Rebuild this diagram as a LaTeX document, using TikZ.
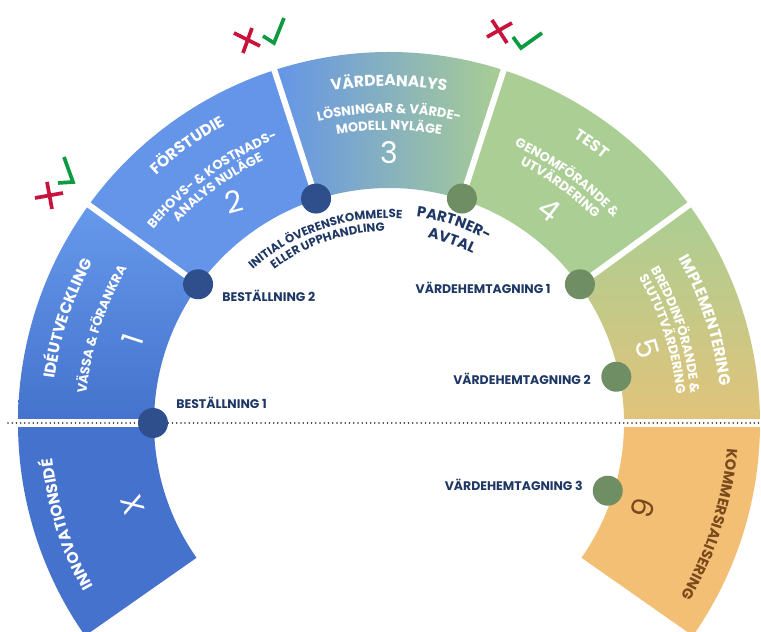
\documentclass[tikz,border=0pt]{standalone}
\usepackage{fontspec}
\setmainfont{Poppins}
\usepackage{tikz}
\usetikzlibrary{positioning, decorations.text, shadings}
\definecolor{segblue}{HTML}{6495E8}
\definecolor{segbluetop}{HTML}{6699EB}
\definecolor{segbluedark}{HTML}{4472CC}
\definecolor{segmid}{HTML}{8AB4BE}
\definecolor{seggreen}{HTML}{AACE93}
\definecolor{segtan}{HTML}{E2C37A}
\definecolor{segorange}{HTML}{F2BF74}
\definecolor{dotblue}{HTML}{2E4E8C}
\definecolor{dotgreen}{HTML}{6F8E63}
\definecolor{navy}{HTML}{1E3764}
\definecolor{kommbrown}{HTML}{7A4A1C}
\definecolor{markred}{HTML}{C8143C}
\definecolor{markgreen}{HTML}{0E9A40}
\definecolor{dotgray}{HTML}{2A2A2A}
\tikzstyle{Gap} = [
%white cut between two phases:
white, line width=0.12cm
]
\newcommand{\ringpart}[2]{(#1:371) arc[start angle=#1, end angle=#2, radius=371] -- (#2:235) arc[start angle=#2, end angle=#1, radius=235] -- cycle}
\newcommand{\ringtext}[5]{\path[decorate, decoration={text along path, text align=center, text={|#1|#5}}] (#3+#4:#2) arc[start angle=#3+#4, end angle=#3-#4, radius=#2];}
\newcommand{\segtitle}{\bfseries\fontsize{8.9}{11}\selectfont\color{white}}
\newcommand{\segsub}{\bfseries\fontsize{7.4}{9}\selectfont\color{white}}
\newcommand{\gatetext}{\bfseries\fontsize{6.7}{8}\selectfont\color{navy}}
\newcommand{\partnertext}{\bfseries\fontsize{8.4}{10}\selectfont\color{navy}}
\newcommand{\kommtext}{\bfseries\fontsize{8.4}{10}\selectfont\color{kommbrown}}

\begin{document}
\begin{tikzpicture}[x=0.02cm, y=0.02cm,
			milestone/.style = {circle, minimum size=0.6cm, inner sep=0pt},
			lbl/.style = {font=\bfseries\fontsize{7.1}{9}\selectfont, text=navy, inner sep=0pt},
			phasenum/.style = {font=\fontsize{17}{20}\selectfont, text=white, inner sep=0pt},
			dotline/.style = {draw=dotgray, line width=1pt, dash pattern=on 0pt off 2.4pt, line cap=round},
			redmark/.style = {draw=markred, line width=2.1pt},
			greenmark/.style = {draw=markgreen, line width=2.1pt, line join=miter},
		]
		\path[use as bounding box, fill=white] (0,0) rectangle (761,632);

		\begin{scope}[shift={(389,209)}]
			\shade[top color=segbluetop, bottom color=segbluedark] \ringpart{144}{180};
			\fill[segblue] \ringpart{108}{144};
			\shade[left color=segblue, middle color=segmid, right color=seggreen] \ringpart{72}{108};
			\fill[seggreen] \ringpart{36}{72};
			\shade[top color=seggreen, middle color=seggreen, bottom color=segtan] \ringpart{0}{36};
			\fill[segbluedark] \ringpart{180}{215};
			\fill[segorange] \ringpart{-35}{0};
			\foreach \a in {36,72,108,144} \draw[Gap] (\a:228) -- (\a:378);
			\foreach \a in {0,180} \draw[Gap, line width=0.16cm] (\a:228) -- (\a:378);
		\end{scope}

		\coordinate (dl) at (8,209);
		\coordinate (dr) at (761,209);
		\draw[dotline] (dl) -- (dr);

		\begin{scope}[shift={(389,209)}]
			\node[milestone, fill=dotblue] (best1) at (180:236) {};
			\node[milestone, fill=dotblue] (best2) at (144:236) {};
			\node[milestone, fill=dotblue] (initial) at (108:236) {};
			\node[milestone, fill=dotgreen] (partner) at (72:236) {};
			\node[milestone, fill=dotgreen] (vard1) at (36:236) {};
			\node[milestone, fill=dotgreen] (vard2) at (11.5:232) {};
			\node[milestone, fill=dotgreen] (vard3) at (-17.2:229) {};

			\node[phasenum, rotate=72] (num1) at (162:269) {1};
			\node[phasenum, rotate=15] (num2) at (125:270) {2};
			\node[phasenum] (num3) at (90:270) {3};
			\node[phasenum, rotate=-37] (num4) at (53:267) {4};
			\node[phasenum, rotate=-74] (num5) at (16:269) {5};
			\node[phasenum, rotate=107.7] (numx) at (197.7:269) {X};
			\node[phasenum, rotate=-108.5, text=kommbrown] (num6) at (-18.5:268) {6};

			\ringtext{\segtitle}{337}{162}{25}{IDÉUTVECKLING}
			\ringtext{\segsub}{304}{162}{25}{VÄSSA {\&} FÖRANKRA}
			\ringtext{\segtitle}{340}{126}{25}{FÖRSTUDIE}
			\ringtext{\segsub}{305}{126}{25}{BEHOVS- {\&} KOSTNADS-}
			\ringtext{\segsub}{291}{126}{25}{ANALYS NULÄGE}
			\ringtext{\segtitle}{337}{90}{25}{VÄRDEANALYS}
			\ringtext{\segsub}{310}{90}{25}{LÖSNINGAR {\&} VÄRDE-}
			\ringtext{\segsub}{293}{90}{25}{MODELL NYLÄGE}
			\ringtext{\segtitle}{340}{54}{25}{TEST}
			\ringtext{\segsub}{304}{54}{25}{GENOMFÖRANDE {\&}}
			\ringtext{\segsub}{290}{54}{25}{UTVÄRDERING}
			\ringtext{\segtitle}{333}{18}{25}{IMPLEMENTERING}
			\ringtext{\segsub}{303}{18}{25}{BREDDINFÖRANDE {\&}}
			\ringtext{\segsub}{289}{18}{25}{SLUTUTVÄRDERING}
			\ringtext{\segtitle}{338}{197.5}{25}{INNOVATIONSIDÉ}
			\ringtext{\kommtext}{339}{-17.5}{25}{KOMMERSIALISERING}

			\ringtext{\gatetext}{205}{109}{40}{INITIAL ÖVERENSKOMMELSE}
			\ringtext{\gatetext}{192}{109}{40}{ELLER UPPHANDLING}
			\ringtext{\partnertext}{208}{72}{25}{PARTNER-}
			\ringtext{\partnertext}{189}{71}{25}{AVTAL}
		\end{scope}

		\node[lbl, anchor=base west] (lbest1) at (176,223) {BESTÄLLNING 1};
		\node[lbl, anchor=base west] (lbest2) at (222,330) {BESTÄLLNING 2};
		\node[lbl, anchor=base east] (lvard1) at (551,338) {VÄRDEHEMTAGNING 1};
		\node[lbl, anchor=base east] (lvard2) at (591,247) {VÄRDEHEMTAGNING 2};
		\node[lbl, anchor=base east] (lvard3) at (583,141) {VÄRDEHEMTAGNING 3};

		\draw[redmark] (35,434) -- (63,439);
		\draw[redmark] (47,450) -- (52,423);
		\draw[greenmark] (64,475) -- (73,450) -- (58,449);
		\draw[redmark] (234,599) -- (260,586);
		\draw[redmark] (252,604) -- (243,579);
		\draw[greenmark] (263,596) -- (274,589) -- (284,614);
		\draw[redmark] (487,595) -- (512,609);
		\draw[redmark] (492,612) -- (507,589);
		\draw[greenmark] (513,595) -- (521,584) -- (542,599);

	\end{tikzpicture}
\end{document}
